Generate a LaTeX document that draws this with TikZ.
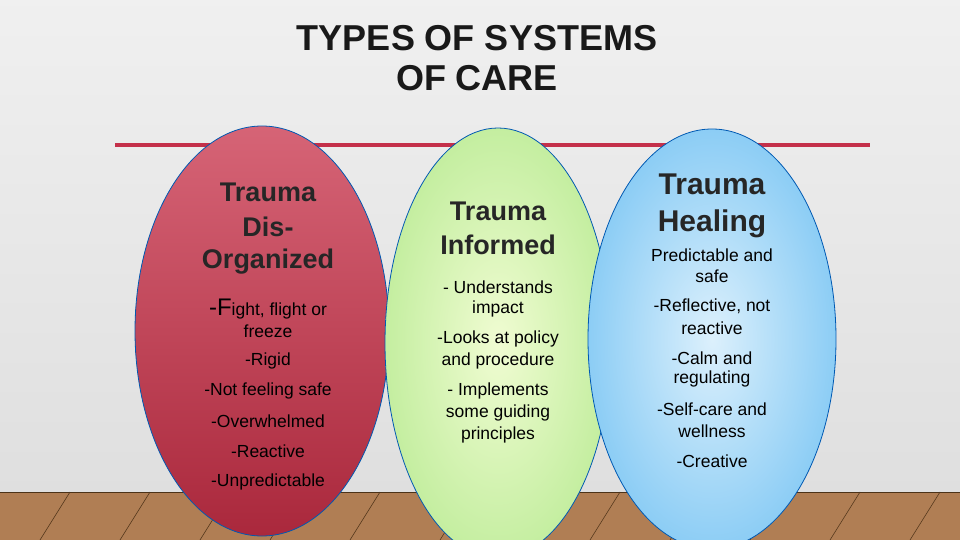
\documentclass[tikz,border=0pt]{standalone}
\usepackage{fontspec}
\setmainfont{Liberation Sans}
\usetikzlibrary{shapes.geometric}
\definecolor{wood}{RGB}{176,126,84}
\begin{document}
\begin{tikzpicture}[x=1pt,y=-1pt,
  blob/.style={ellipse,draw=blue!50!cyan!70!black,line width=0.8pt,inner sep=0},
  tt/.style={font=\fontsize{27}{30}\selectfont\bfseries,text=black!85},
  bl/.style={font=\fontsize{17.5}{20}\selectfont,text=black}]
\useasboundingbox (0,0) rectangle (960,540);
\shade[top color=white!88!gray,bottom color=gray!25] (0,0) rectangle (960,492);
\fill[wood] (0,492) rectangle (960,540);
\foreach \x in {0,70,150,230,300,380,470,540,620,700,780,860,940}{
  \draw[brown!45!black,line width=0.6pt] (\x,492) -- (\x-30,540);}
\draw[brown!40!black] (0,492) -- (960,492);
\node[font=\fontsize{36}{40}\selectfont\bfseries,align=center,text=black!90] (title) at (477,58) {TYPES OF SYSTEMS\\OF CARE};
\coordinate (l1) at (115,145); \coordinate (l2) at (870,145);
\draw[line width=4pt,color={rgb,255:red,196;green,48;blue,74}] (l1) -- (l2);
\node[blob,minimum width=254,minimum height=410,top color={rgb,255:red,214;green,100;blue,118},bottom color={rgb,255:red,170;green,40;blue,60}] (e1) at (262,331) {};
\node[blob,minimum width=226,minimum height=430,inner color={rgb,255:red,240;green,252;blue,210},outer color={rgb,255:red,196;green,238;blue,160}] (e2) at (498,343) {};
\node[blob,minimum width=248,minimum height=420,inner color={rgb,255:red,220;green,240;blue,252},outer color={rgb,255:red,140;green,205;blue,245}] (e3) at (712,339) {};
% ellipse 1
\node[tt] (a1) at (268,192) {Trauma};
\node[tt] (a2) at (268,227) {Dis-};
\node[tt] (a3) at (268,262) {Organized};
\node[bl] (a4) at (268,309) {{\fontsize{24}{26}\selectfont -F}ight, flight or};
\node[bl] (a5) at (268,331) {freeze};
\node[bl] (a6) at (268,361) {-Rigid};
\node[bl] (a7) at (268,391) {-Not feeling safe};
\node[bl] (a8) at (268,421) {-Overwhelmed};
\node[bl] (a9) at (268,451) {-Reactive};
\node[bl] (a10) at (268,482) {-Unpredictable};
% ellipse 2
\node[tt] (b1) at (498,211) {Trauma};
\node[tt] (b2) at (498,245) {Informed};
\node[bl] (b3) at (498,287) {- Understands};
\node[bl] (b4) at (498,309) {impact};
\node[bl] (b5) at (498,339) {-Looks at policy};
\node[bl] (b6) at (498,361) {and procedure};
\node[bl] (b7) at (498,391) {- Implements};
\node[bl] (b8) at (498,413) {some guiding};
\node[bl] (b9) at (498,435) {principles};
% ellipse 3
\node[tt,font=\fontsize{30}{33}\selectfont\bfseries] (c1) at (712,184) {Trauma};
\node[tt,font=\fontsize{30}{33}\selectfont\bfseries] (c2) at (712,224) {Healing};
\node[bl] (c3) at (712,255) {Predictable and};
\node[bl] (c4) at (712,276) {safe};
\node[bl] (c5) at (712,306) {-Reflective, not};
\node[bl] (c6) at (712,328) {reactive};
\node[bl] (c7) at (712,358) {-Calm and};
\node[bl] (c8) at (712,379) {regulating};
\node[bl] (c9) at (712,409) {-Self-care and};
\node[bl] (c10) at (712,431) {wellness};
\node[bl] (c11) at (712,461) {-Creative};
\end{tikzpicture}
\end{document}
